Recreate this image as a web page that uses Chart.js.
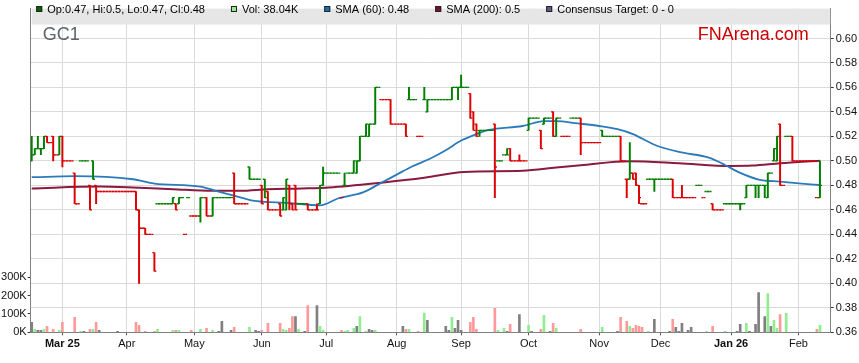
<!DOCTYPE html>
<html><head><meta charset="utf-8">
<script src="https://cdn.jsdelivr.net/npm/chart.js@4.4.1/dist/chart.umd.min.js"></script>
<style>html,body{margin:0;padding:0;background:#fff;overflow:hidden}#wrap{width:859px;height:363px;position:relative}</style>
</head><body><div id="wrap"><canvas id="c" width="859" height="363"></canvas></div>
<script>
// ---- DATA ----
const ticker = 'GC1';
const firstDay = '2025-02-17';          // first trading day shown (weekday calendar)
const openP = [
 .50,.505,.51,.51,.51,.52,.515,.52,.505,.505,
 .52,.50,.50,.50,.49,.465,.50,.50,.50,.48,
 .50,.48,.475,.475,.475,.475,.475,.475,.475,.475,
 .475,.475,.475,.475,.475,.46,.445,.445,.44,.44,
 .425,.465,.465,.465,.465,.465,.465,.465,.465,.47,
 .44,.47,.455,.455,.455,.455,.47,.47,.455,.455,
 .47,.47,.47,.47,.47,.47,.49,.465,.465,.465,
 .465,.495,.485,.485,.485,.48,.485,.475,.46,.46,
 .46,.465,.46,.46,.48,.465,.48,.465,.465,.465,
 .465,.46,.46,.46,.465,.48,.49,.49,.49,.49,
 .49,.47,.48,.49,.49,.49,.49,.50,.52,.52,
 .52,.53,.53,.56,.55,.55,.55,.55,.53,.53,
 .53,.53,.53,.55,.55,.55,.52,.52,.55,.54,
 .55,.55,.55,.55,.55,.55,.55,.55,.56,.56,
 .56,.56,.56,.555,.54,.53,.525,.525,.525,.525,
 .525,.53,.50,.50,.505,.505,.51,.50,.50,.50,
 .50,.50,.525,.535,.535,.535,.525,.53,.535,.535,
 .54,.52,.535,.52,.52,.52,.535,.535,.535,.535,
 .515,.515,.515,.515,.515,.515,.525,.52,.52,.52,
 .52,.52,.52,.50,.485,.485,.49,.49,.48,.465,
 .465,.485,.485,.485,.485,.485,.485,.485,.485,.485,
 .47,.47,.47,.47,.47,.47,.47,.48,.48,.47,
 .475,.475,.465,.46,.46,.46,.465,.465,.465,.465,
 .465,.465,.465,.47,.48,.48,.48,.48,.48,.48,
 .47,.49,.50,.50,.53,.48,.52,.52,.52,.50,
 .50,.50,.50,.50,.50,.50,.47,.47];
const highP = [
 .52,.51,.52,.51,.52,.52,.515,.52,.505,.52,
 .52,.50,.50,.50,.49,.465,.50,.50,.50,.48,
 .50,.48,.475,.475,.475,.475,.475,.475,.475,.475,
 .475,.475,.475,.475,.475,.46,.445,.445,.44,.44,
 .425,.465,.465,.465,.465,.465,.47,.465,.47,.47,
 .44,.47,.455,.455,.455,.47,.47,.47,.455,.47,
 .47,.47,.47,.47,.47,.47,.49,.465,.465,.465,
 .465,.495,.485,.485,.485,.48,.485,.475,.46,.46,
 .46,.465,.47,.485,.48,.465,.48,.465,.465,.465,
 .465,.46,.46,.465,.48,.495,.49,.49,.49,.49,
 .49,.47,.49,.49,.49,.50,.50,.52,.52,.53,
 .53,.53,.56,.56,.55,.55,.55,.55,.53,.53,
 .53,.53,.53,.56,.55,.55,.52,.52,.56,.55,
 .55,.55,.55,.55,.55,.55,.55,.56,.56,.56,
 .57,.56,.56,.555,.54,.53,.525,.525,.525,.525,
 .525,.53,.50,.50,.505,.51,.51,.50,.50,.505,
 .50,.50,.535,.535,.535,.535,.525,.535,.535,.535,
 .54,.535,.535,.52,.52,.52,.535,.535,.535,.535,
 .515,.515,.515,.515,.515,.515,.525,.52,.52,.52,
 .52,.52,.52,.50,.485,.515,.49,.49,.48,.465,
 .465,.485,.485,.485,.485,.485,.485,.485,.485,.485,
 .47,.47,.48,.47,.47,.47,.47,.48,.48,.47,
 .475,.475,.465,.46,.46,.46,.465,.465,.465,.465,
 .465,.465,.465,.48,.48,.48,.48,.48,.48,.48,
 .49,.49,.51,.52,.53,.48,.52,.52,.52,.50,
 .50,.50,.50,.50,.50,.50,.47,.50];
const lowP = [
 .50,.505,.51,.505,.51,.515,.515,.50,.505,.505,
 .495,.50,.50,.50,.465,.465,.50,.50,.50,.46,
 .485,.465,.475,.475,.475,.475,.475,.475,.475,.475,
 .475,.475,.475,.475,.46,.40,.445,.44,.44,.44,
 .41,.465,.465,.465,.465,.465,.465,.46,.465,.47,
 .44,.47,.455,.455,.455,.45,.47,.455,.455,.455,
 .47,.47,.47,.47,.47,.47,.465,.465,.465,.465,
 .465,.485,.485,.485,.485,.465,.47,.46,.46,.46,
 .46,.455,.46,.46,.46,.46,.46,.465,.465,.465,
 .46,.46,.46,.46,.465,.48,.49,.49,.49,.49,
 .49,.47,.48,.49,.49,.49,.49,.50,.52,.52,
 .52,.53,.53,.56,.55,.55,.55,.53,.53,.53,
 .53,.53,.52,.55,.55,.55,.52,.52,.55,.54,
 .55,.55,.55,.55,.55,.55,.55,.55,.56,.55,
 .56,.56,.56,.535,.525,.52,.52,.525,.525,.525,
 .525,.47,.50,.50,.505,.505,.50,.50,.50,.50,
 .50,.50,.525,.535,.535,.535,.51,.53,.535,.535,
 .52,.52,.535,.52,.52,.52,.535,.535,.535,.505,
 .515,.515,.515,.515,.515,.515,.52,.52,.52,.52,
 .52,.52,.50,.50,.47,.485,.485,.48,.465,.465,
 .465,.485,.485,.475,.485,.485,.485,.485,.485,.47,
 .47,.47,.47,.47,.47,.47,.47,.48,.48,.47,
 .475,.475,.46,.46,.46,.46,.465,.465,.465,.465,
 .465,.46,.465,.47,.48,.48,.47,.47,.48,.47,
 .47,.49,.50,.50,.48,.48,.52,.52,.50,.50,
 .50,.50,.50,.50,.50,.50,.47,.47];
const closeP = [
 .505,.51,.51,.51,.52,.515,.515,.505,.505,.52,
 .50,.50,.50,.50,.465,.465,.50,.50,.50,.46,
 .485,.475,.475,.475,.475,.475,.475,.475,.475,.475,
 .475,.475,.475,.475,.46,.445,.445,.44,.44,.44,
 .41,.465,.465,.465,.465,.465,.47,.46,.47,.47,
 .44,.47,.455,.455,.455,.47,.47,.455,.455,.47,
 .47,.47,.47,.47,.47,.47,.465,.465,.465,.465,
 .465,.485,.485,.485,.485,.465,.47,.46,.46,.46,
 .46,.455,.47,.485,.465,.46,.46,.465,.465,.465,
 .46,.46,.46,.46,.48,.49,.49,.49,.49,.49,
 .49,.47,.48,.49,.49,.50,.50,.52,.52,.53,
 .53,.53,.56,.56,.55,.55,.55,.53,.53,.53,
 .53,.53,.52,.55,.55,.55,.52,.52,.55,.55,
 .55,.55,.55,.55,.55,.55,.55,.56,.56,.56,
 .56,.56,.56,.535,.525,.52,.525,.525,.525,.525,
 .525,.495,.50,.50,.505,.505,.50,.50,.50,.50,
 .50,.50,.535,.535,.535,.535,.51,.535,.535,.535,
 .52,.535,.535,.52,.52,.52,.535,.535,.535,.515,
 .515,.515,.515,.515,.515,.515,.52,.52,.52,.52,
 .52,.52,.50,.50,.485,.49,.485,.48,.47,.465,
 .465,.485,.485,.485,.485,.485,.485,.485,.485,.47,
 .47,.47,.47,.47,.47,.47,.47,.48,.48,.47,
 .475,.475,.46,.46,.46,.46,.465,.465,.465,.465,
 .465,.465,.465,.48,.48,.48,.48,.48,.48,.48,
 .49,.49,.51,.52,.48,.48,.52,.52,.50,.50,
 .50,.50,.50,.50,.50,.50,.47,.48];
const volumeK = [
 54,16,11,11,16,32,0,16,0,11,
 54,0,0,0,81,0,5,5,0,16,
 16,54,11,0,0,0,0,0,5,0,
 0,0,0,0,54,38,0,5,0,0,
 5,16,0,0,0,0,11,11,11,0,
 0,0,11,0,0,16,0,22,0,11,
 0,5,59,0,0,11,27,0,0,0,
 0,27,0,11,5,11,0,49,0,0,
 0,49,16,11,22,86,86,16,0,5,
 146,0,0,146,32,11,0,0,0,0,
 0,11,5,11,0,22,32,86,0,5,
 16,11,11,0,0,0,0,0,0,0,
 0,32,16,16,0,0,5,0,104,65,
 0,0,0,0,0,32,11,81,22,65,
 11,0,0,54,81,16,0,0,0,0,
 0,130,11,0,22,5,43,0,0,97,
 0,0,38,5,0,0,16,92,0,5,
 49,22,0,0,0,0,0,0,0,16,
 0,0,0,0,0,0,27,0,0,0,
 0,5,81,0,59,32,22,38,32,27,
 0,5,0,70,0,0,0,0,5,70,
 27,5,49,0,11,27,0,0,0,0,
 5,0,32,0,0,0,5,0,0,0,
 5,43,0,49,5,0,43,216,0,86,
 211,32,65,22,97,0,103,0,0,0,
 0,0,0,0,0,0,16,38.04];
// moving averages: [day index, value]
const sma60 = [[0,.4867],[14,.4875],[33,.485],[40,.4815],[55,.479],[60,.4756],[66,.4716],[72,.4676],[84,.4656],[94,.4637],[100,.4695],[108,.4743],[114,.4822],[119,.4888],[124,.4954],[130,.502],[135,.5087],[140,.5166],[143,.5198],[149,.5253],[160,.5285],[167,.5325],[171,.5325],[178,.5306],[185,.5285],[191,.5259],[196,.5219],[203,.5132],[211,.5073],[221,.5025],[226,.4967],[231,.4902],[237,.4848],[244,.483],[251,.4814],[257,.4803]];
const sma200 = [[0,.4775],[22,.479],[33,.4783],[46,.4769],[59,.4756],[68,.4756],[77,.4769],[88,.4775],[97,.4783],[114,.4822],[128,.4862],[141,.491],[160,.492],[171,.4946],[179,.4965],[195,.4997],[211,.4981],[228,.4959],[235,.4962],[244,.4981],[257,.5002]];
const priceTicks = [0.36,0.38,0.40,0.42,0.44,0.46,0.48,0.50,0.52,0.54,0.56,0.58,0.60];
const volumeTicks = [0,100,200,300];
const monthNames = ['Jan','Feb','Mar','Apr','May','Jun','Jul','Aug','Sep','Oct','Nov','Dec'];
const consensusText = 'Consensus Target: 0 - 0';

// ---- build ----
const n = closeP.length;
const dates = [];
{ const d = new Date(firstDay + 'T00:00:00Z');
  while (dates.length < n) { const w = d.getUTCDay(); if (w !== 0 && w !== 6) dates.push(new Date(d)); d.setUTCDate(d.getUTCDate() + 1); } }
const monthTicks = [];
for (let i = 1; i < n; i++) {
  if (dates[i].getUTCMonth() !== dates[i-1].getUTCMonth()) {
    const m = dates[i].getUTCMonth();
    const first = monthTicks.length === 0 || m === 0;
    monthTicks.push({i, label: first ? monthNames[m] + ' ' + String(dates[i].getUTCFullYear()).slice(2) : monthNames[m], bold: first});
  }
}
const labelMap = {}; const boldSet = new Set();
monthTicks.forEach(t => { labelMap[t.i] = t.label; if (t.bold) boldSet.add(t.i); });

const UP = '#008000', DOWN = '#dd0000';
const VUP = '#90ee90', VDOWN = '#ff9a9a', VFLAT = '#808080';
const hl = [], opens = [], closes = [], vols = [];
let prevCol = UP;
for (let i = 0; i < n; i++) {
  let col = prevCol, vcol = VFLAT;
  if (i > 0 && closeP[i] > closeP[i-1]) { col = UP; vcol = VUP; }
  else if (i > 0 && closeP[i] < closeP[i-1]) { col = DOWN; vcol = VDOWN; }
  prevCol = col;
  if (highP[i] > lowP[i]) hl.push({x: i, y: [lowP[i], highP[i]], c: col});
  opens.push({x: i - 0.33, y: openP[i], c: col});
  closes.push({x: i + 0.33, y: closeP[i], c: col});
  if (volumeK[i] > 0) vols.push({x: i, y: volumeK[i], c: vcol});
}
const last = n - 1;
const legendItems = [
  {color: '#006400', text: `Op:${openP[last]}, Hi:${highP[last]}, Lo:${lowP[last]}, Cl:${closeP[last]}`},
  {color: '#90ee90', text: `Vol: ${volumeK[last].toFixed(2)}K`},
  {color: '#1f6fae', text: `SMA (60): ${+sma60[sma60.length-1][1].toFixed(2)}`},
  {color: '#7a0f2e', text: `SMA (200): ${+sma200[sma200.length-1][1].toFixed(2)}`},
  {color: '#5b5b8c', text: consensusText}
];

const FONT = '"Liberation Sans", Arial, sans-serif';
Chart.defaults.font.family = FONT;
Chart.defaults.font.size = 11;
Chart.defaults.color = '#111';

const overlay = {
  id: 'overlay',
  afterDraw(chart) {
    const {ctx, chartArea: a} = chart;
    ctx.save();
    ctx.fillStyle = '#e6e6e6';
    ctx.fillRect(a.left + 1, a.top, a.right - a.left - 1.5, 16);
    ctx.font = '11px ' + FONT;
    ctx.textBaseline = 'middle';
    let x = a.left + 5.5;
    legendItems.forEach(it => {
      ctx.fillStyle = it.color;
      ctx.fillRect(x, 6, 6, 6);
      ctx.strokeStyle = '#222'; ctx.lineWidth = 1;
      ctx.strokeRect(x + 0.5, 6.5, 5, 5);
      ctx.fillStyle = '#000';
      ctx.fillText(it.text, x + 11, 9.5);
      x += 11 + ctx.measureText(it.text).width + 26;
    });
    ctx.textBaseline = 'alphabetic';
    ctx.font = '18px ' + FONT;
    ctx.fillStyle = '#5c636b';
    ctx.fillText(ticker, a.left + 12, 40);
    ctx.fillStyle = '#cc0000';
    ctx.textAlign = 'right';
    ctx.fillText('FNArena.com', a.right - 22, 40);
    ctx.restore();
  }
};

new Chart(document.getElementById('c'), {
  data: {
    datasets: [
      {type: 'scatter', data: opens, xAxisID: 'x', yAxisID: 'y', order: 0, showLine: false,
       pointStyle: 'line', pointRadius: 1, pointHoverRadius: 1, pointBorderWidth: 1.3,
       pointBorderColor: c => c.raw ? c.raw.c : UP},
      {type: 'scatter', data: closes, xAxisID: 'x', yAxisID: 'y', order: 0, showLine: false,
       pointStyle: 'line', pointRadius: 1, pointHoverRadius: 1, pointBorderWidth: 1.3,
       pointBorderColor: c => c.raw ? c.raw.c : UP},
      {type: 'bar', data: hl, xAxisID: 'x', yAxisID: 'y', order: 1, grouped: false,
       barThickness: 1.3, backgroundColor: c => c.raw ? c.raw.c : UP, borderWidth: 0},
      {type: 'line', data: sma60.map(p => ({x: p[0], y: p[1]})), xAxisID: 'x', yAxisID: 'y', order: 2,
       borderColor: '#2a7bba', borderWidth: 1.8, pointRadius: 0, tension: 0.4, cubicInterpolationMode: 'monotone'},
      {type: 'line', data: sma200.map(p => ({x: p[0], y: p[1]})), xAxisID: 'x', yAxisID: 'y', order: 3,
       borderColor: '#8a1a42', borderWidth: 2, pointRadius: 0, tension: 0.4, cubicInterpolationMode: 'monotone'},
      {type: 'bar', data: vols, xAxisID: 'x', yAxisID: 'v', order: 4, grouped: false,
       barThickness: 2, backgroundColor: c => c.raw ? c.raw.c : VFLAT, borderWidth: 0}
    ]
  },
  options: {
    responsive: false, animation: false, devicePixelRatio: 1, events: [],
    layout: {padding: 0},
    plugins: {legend: {display: false}, tooltip: {enabled: false}},
    scales: {
      x: {type: 'linear', position: 'bottom', min: -0.33, max: 260.5, offset: false,
          afterBuildTicks: s => { s.ticks = monthTicks.map(t => ({value: t.i})); },
          ticks: {autoSkip: false, maxRotation: 0, padding: 2, color: '#111',
                  font: c => ({size: 11, weight: (c.tick && boldSet.has(c.tick.value)) ? 'bold' : 'normal'}),
                  callback: v => labelMap[v] || ''},
          grid: {color: '#dadada', lineWidth: 1, drawTicks: true, tickLength: 3, tickColor: '#555', offset: false},
          border: {display: true, color: '#808080', width: 1},
          afterFit: s => { s.height = 30.7; }},
      y: {type: 'linear', position: 'right', min: 0.36, max: 0.6244,
          afterBuildTicks: s => { s.ticks = priceTicks.map(v => ({value: v})); },
          ticks: {padding: 2, color: '#111', callback: v => v.toFixed(2)},
          grid: {color: '#dadada', lineWidth: 1, tickLength: 3, tickColor: '#333'},
          border: {display: true, color: '#808080', width: 1},
          afterFit: s => { s.width = 28.3; }},
      v: {type: 'linear', position: 'left', min: 0, max: 1761,
          afterBuildTicks: s => { s.ticks = volumeTicks.map(v => ({value: v})); },
          ticks: {padding: 1, color: '#111', callback: v => v + 'K'},
          grid: {drawOnChartArea: false, tickLength: 3, tickColor: '#333'},
          border: {display: true, color: '#808080', width: 1},
          afterFit: s => { s.width = 30.7; }}
    }
  },
  plugins: [overlay]
});
</script>
</body></html>
